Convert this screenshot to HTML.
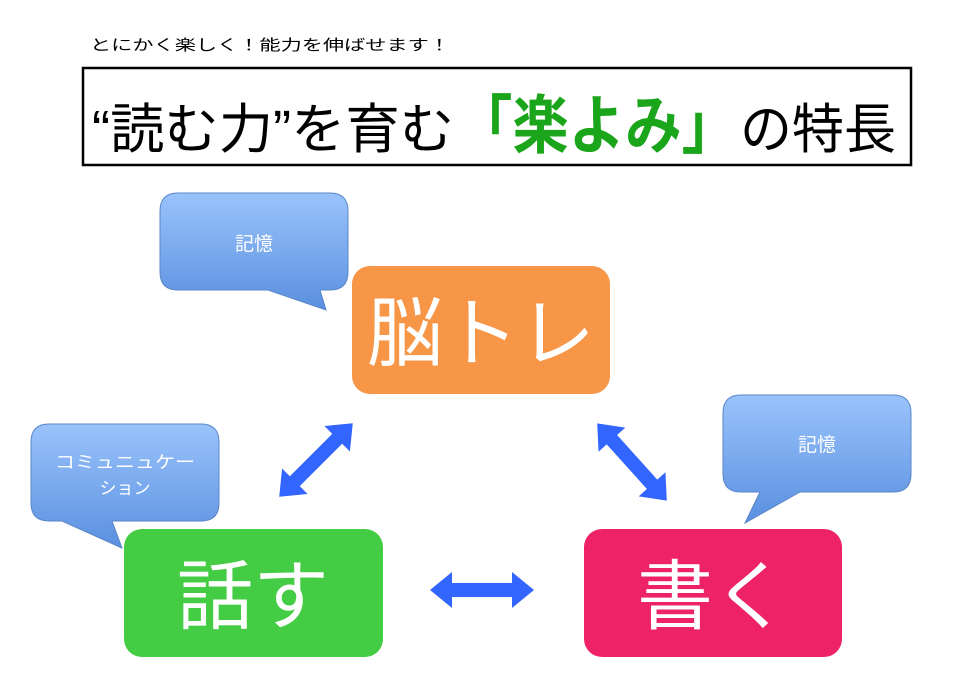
<!DOCTYPE html>
<html><head><meta charset="utf-8"><style>
html,body{margin:0;padding:0;background:#fff}
svg{display:block}
text{font-family:"Liberation Sans","Noto Sans CJK JP",sans-serif}
</style></head><body>
<svg width="954" height="699" viewBox="0 0 954 699">
<defs>
<linearGradient id="bg" x1="0" y1="0" x2="0" y2="1">
<stop offset="0" stop-color="#9ac3fb"/><stop offset="1" stop-color="#5a90e0"/>
</linearGradient>
</defs>
<text x="90" y="50" font-size="15" fill="#000" textLength="360" lengthAdjust="spacingAndGlyphs">とにかく楽しく！能力を伸ばせます！</text>
<rect x="83" y="68" width="828" height="97" fill="#fff" stroke="#000" stroke-width="2.5"/>
<text x="92" y="148" font-size="54" fill="#000" textLength="362" lengthAdjust="spacingAndGlyphs">“読む力”を育む</text>
<text x="456" y="148" font-size="64" fill="#1aa51a" font-weight="bold" textLength="282" lengthAdjust="spacingAndGlyphs">「楽よみ」</text>
<text x="740" y="148" font-size="54" fill="#000" textLength="156" lengthAdjust="spacingAndGlyphs">の特長</text>

<!-- callout 1 -->
<path d="M178,193 H330 Q348,193 348,211 V272 Q348,290 330,290 H320 L326,310 L268,290 H178 Q160,290 160,272 V211 Q160,193 178,193 Z" fill="url(#bg)" stroke="#5a86c8" stroke-width="1"/>
<text x="254" y="250" font-size="19" fill="#fff" text-anchor="middle">記憶</text>
<!-- callout 2 -->
<path d="M49,424 H201 Q219,424 219,442 V503 Q219,521 201,521 H112 L122,548 L62,521 H49 Q31,521 31,503 V442 Q31,424 49,424 Z" fill="url(#bg)" stroke="#5a86c8" stroke-width="1"/>
<text x="125" y="468" font-size="17" fill="#fff" text-anchor="middle" textLength="140" lengthAdjust="spacingAndGlyphs">コミュニュケー</text>
<text x="125" y="494" font-size="17" fill="#fff" text-anchor="middle">ション</text>
<!-- callout 3 -->
<path d="M741,395 H893 Q911,395 911,413 V474 Q911,492 893,492 H800 L745,523 L760,492 H741 Q723,492 723,474 V413 Q723,395 741,395 Z" fill="url(#bg)" stroke="#5a86c8" stroke-width="1"/>
<text x="817" y="451" font-size="19" fill="#fff" text-anchor="middle">記憶</text>

<!-- boxes -->
<rect x="352" y="266" width="258" height="128" rx="18" fill="#f79646"/>
<text x="481" y="360" font-size="76" fill="#fff" text-anchor="middle">脳トレ</text>
<rect x="124" y="529" width="259" height="128" rx="18" fill="#44cc44"/>
<text x="253" y="623" font-size="76" fill="#fff" text-anchor="middle">話す</text>
<rect x="584" y="529" width="258" height="128" rx="18" fill="#ee2266"/>
<text x="713" y="623" font-size="76" fill="#fff" text-anchor="middle">書く</text>

<!-- arrows -->
<g fill="#3366ff">
<g transform="translate(482,590)"><polygon points="-52,0 -30,-18 -30,-7 30,-7 30,-18 52,0 30,18 30,7 -30,7 -30,18"/></g>
<g transform="translate(316,460) rotate(-45)"><polygon points="-52,0 -30,-18 -30,-7 30,-7 30,-18 52,0 30,18 30,7 -30,7 -30,18"/></g>
<g transform="translate(632,462) rotate(48)"><polygon points="-52,0 -30,-18 -30,-7 30,-7 30,-18 52,0 30,18 30,7 -30,7 -30,18"/></g>
</g>
</svg>
</body></html>
